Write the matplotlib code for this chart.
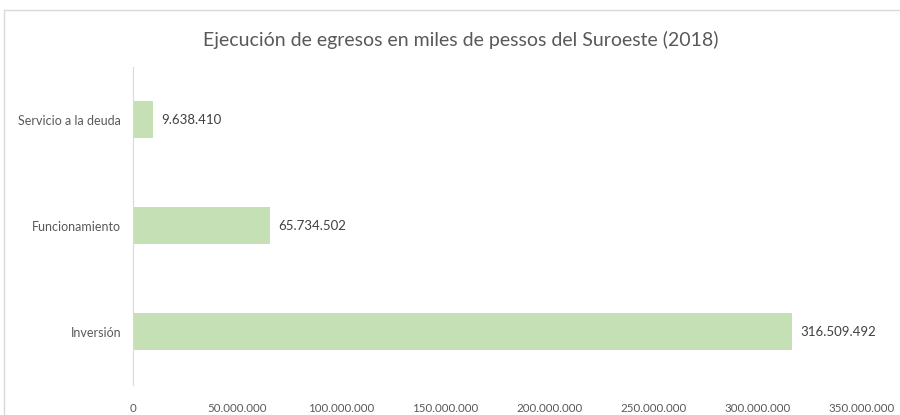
import matplotlib.pyplot as plt
from matplotlib.patches import Rectangle
from matplotlib.ticker import FuncFormatter

categorias = ['Servicio a la deuda', 'Funcionamiento', 'Inversión']
valores = [9638410, 65734502, 316509492]
ticks = [0, 50000000, 100000000, 150000000, 200000000, 250000000, 300000000, 350000000]

plt.rcParams['font.family'] = ['Lato', 'DejaVu Sans']

def miles(v):
    return f'{int(v):,}'.replace(',', '.')

fig = plt.figure(figsize=(9, 4.15), dpi=100)
# borde del gráfico
fig.patches.append(Rectangle((4 / 900, -0.1), 1.2, (415 - 10) / 415 + 0.1,
                             transform=fig.transFigure, fill=False,
                             edgecolor='#d9d9d9', linewidth=1))

ax = fig.add_axes([133 / 900, (415 - 384.5) / 415, (862 - 133) / 900, 318 / 415])
y = list(range(len(categorias)))
ax.barh(y, valores, height=0.35, color='#c5e0b4')
for yi, v in zip(y, valores):
    ax.text(v + 350e6 * 0.011, yi, miles(v), va='center', ha='left',
            fontsize=9.5, color='#404040')

ax.set_xlim(0, 350000000)
ax.set_ylim(2.5, -0.5)
ax.set_yticks(y)
ax.set_yticklabels(categorias)
ax.set_xticks(ticks)
ax.xaxis.set_major_formatter(FuncFormatter(lambda v, p: miles(v)))
ax.tick_params(axis='both', length=0, colors='#595959')
ax.tick_params(axis='y', pad=8.5, labelsize=9)
ax.tick_params(axis='x', pad=13, labelsize=8.3)
for s in ['top', 'right', 'bottom']:
    ax.spines[s].set_visible(False)
ax.spines['left'].set_color('#d9d9d9')

fig.text(461 / 900, 1 - 40 / 415, 'Ejecución de egresos en miles de pessos del Suroeste (2018)',
         ha='center', va='center', fontsize=14, color='#595959')

fig.savefig('out.png', dpi=100)
